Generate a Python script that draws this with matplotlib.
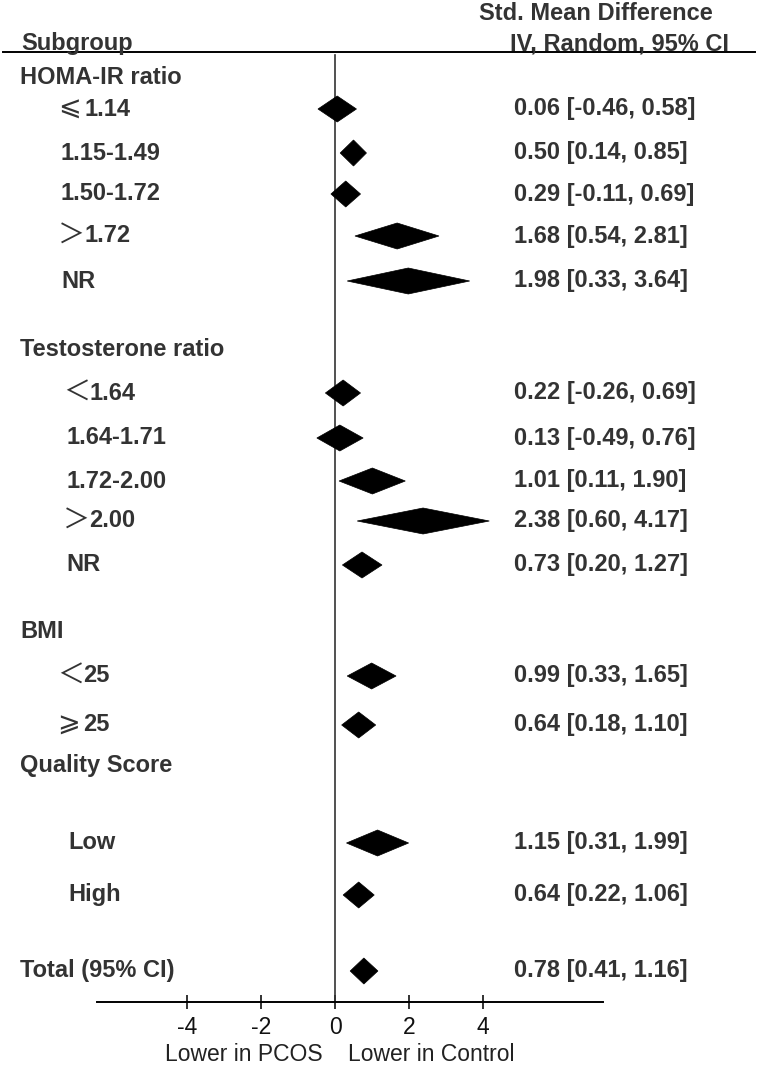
import matplotlib
matplotlib.use("Agg")
import matplotlib.pyplot as plt
from matplotlib.patches import Polygon

plt.rcParams['font.family'] = ['Liberation Sans', 'Noto Sans CJK SC', 'DejaVu Sans']

# ---- data ----
groups = ["HOMA-IR ratio", "Testosterone ratio", "BMI", "Quality Score"]

homa_labels = ["⩽1.14", "1.15-1.49", "1.50-1.72", "＞1.72", "NR"]
homa_est = [0.06, 0.50, 0.29, 1.68, 1.98]
homa_lo = [-0.46, 0.14, -0.11, 0.54, 0.33]
homa_hi = [0.58, 0.85, 0.69, 2.81, 3.64]

testo_labels = ["＜1.64", "1.64-1.71", "1.72-2.00", "＞2.00", "NR"]
testo_est = [0.22, 0.13, 1.01, 2.38, 0.73]
testo_lo = [-0.26, -0.49, 0.11, 0.60, 0.20]
testo_hi = [0.69, 0.76, 1.90, 4.17, 1.27]

bmi_labels = ["＜25", "⩾25"]
bmi_est = [0.99, 0.64]
bmi_lo = [0.33, 0.18]
bmi_hi = [1.65, 1.10]

qual_labels = ["Low", "High"]
qual_est = [1.15, 0.64]
qual_lo = [0.31, 0.22]
qual_hi = [1.99, 1.06]

total_label = "Total (95% CI)"
total_est, total_lo, total_hi = 0.78, 0.41, 1.16

xticks = [-4, -2, 0, 2, 4]

# ---- layout (pixel rows, figure is 757x1066 at dpi 100) ----
W, H = 757, 1066
ZERO_PX, UNIT_PX = 335, 37           # x=0 position and px per SMD unit
AX_L, AX_R, AX_B = 97, 603, 1002
header_y = [78, 349, 632, 766]
item_y = [[109, 153, 194, 236, 281],
          [393, 438, 481, 521, 565],
          [676, 725],
          [843, 895]]
item_indent = [61, 66, 60, 68]
total_y = 971
HALF_H = 13
VAL_X = 514
FS = 17
TXT = '#333333'


def px2x(px):
    return (px - ZERO_PX) / UNIT_PX


fig = plt.figure(figsize=(W / 100, H / 100), dpi=100)
ax = fig.add_axes([AX_L / W, (H - AX_B) / H, (AX_R - AX_L) / W, AX_B / H])
ax.set_xlim(px2x(AX_L), px2x(AX_R))
ax.set_ylim(AX_B, 0)
ax.set_facecolor('none')


def diamond(est, lo, hi, y):
    ax.add_patch(Polygon([[lo, y], [est, y - HALF_H], [hi, y], [est, y + HALF_H]],
                         closed=True, facecolor='black', edgecolor='black',
                         lw=0.5, clip_on=False, zorder=3))


def row_label(label, x_px, y):
    if label[0] in "⩽⩾＜＞":
        # the comparison signs are thin and wide in the source
        ax.text(px2x(x_px - 3), y, label[0], fontsize=19.5, color=TXT,
                va='center', ha='left', clip_on=False)
        ax.text(px2x(x_px + 23), y, label[1:], fontsize=FS, color=TXT,
                fontweight='bold', va='center', ha='left', clip_on=False)
    else:
        ax.text(px2x(x_px), y, label, fontsize=FS, color=TXT,
                fontweight='bold', va='center', ha='left', clip_on=False)


all_labels = [homa_labels, testo_labels, bmi_labels, qual_labels]
all_est = [homa_est, testo_est, bmi_est, qual_est]
all_lo = [homa_lo, testo_lo, bmi_lo, qual_lo]
all_hi = [homa_hi, testo_hi, bmi_hi, qual_hi]

for g, name in enumerate(groups):
    ax.text(px2x(20), header_y[g], name, fontsize=FS, color=TXT,
            fontweight='bold', va='center', ha='left', clip_on=False)
    for lab, e, lo, hi, y in zip(all_labels[g], all_est[g], all_lo[g],
                                 all_hi[g], item_y[g]):
        row_label(lab, item_indent[g], y)
        diamond(e, lo, hi, y)
        ax.text(px2x(VAL_X), y, f"{e:.2f} [{lo:.2f}, {hi:.2f}]", fontsize=FS,
                color=TXT, fontweight='bold', va='center', ha='left', clip_on=False)

ax.text(px2x(20), total_y, total_label, fontsize=FS, color=TXT,
        fontweight='bold', va='center', ha='left', clip_on=False)
diamond(total_est, total_lo, total_hi, total_y)
ax.text(px2x(VAL_X), total_y, f"{total_est:.2f} [{total_lo:.2f}, {total_hi:.2f}]",
        fontsize=FS, color=TXT, fontweight='bold', va='center', ha='left', clip_on=False)

# header
ax.plot([px2x(3), px2x(755)], [52, 52], color='black', lw=1.4, clip_on=False)
ax.text(px2x(21), 50, "Subgroup", fontsize=FS, color=TXT, fontweight='bold',
        va='baseline', ha='left', clip_on=False)
ax.text(px2x(479), 20, "Std. Mean Difference", fontsize=FS, color=TXT,
        fontweight='bold', va='baseline', ha='left', clip_on=False)
ax.text(px2x(510), 50, "IV, Random, 95% CI", fontsize=FS, color=TXT,
        fontweight='bold', va='baseline', ha='left', clip_on=False)

# line of no effect
ax.plot([0, 0], [55, AX_B], color='#333333', lw=1.2, zorder=2)

# x axis
for s in ['top', 'left', 'right']:
    ax.spines[s].set_visible(False)
ax.spines['bottom'].set_linewidth(1.4)
ax.set_yticks([])
ax.set_xticks(xticks)
ax.set_xticklabels([str(t) for t in xticks])
ax.tick_params(axis='x', direction='inout', length=10, width=1.2,
               labelsize=16.5, pad=5, colors='#111111')

ax.text(-0.33, 1055, "Lower in PCOS", fontsize=16.5, color='#222222',
        ha='right', va='center', clip_on=False)
ax.text(0.36, 1055, "Lower in Control", fontsize=16.5, color='#222222',
        ha='left', va='center', clip_on=False)

fig.savefig("out.png", dpi=100)
